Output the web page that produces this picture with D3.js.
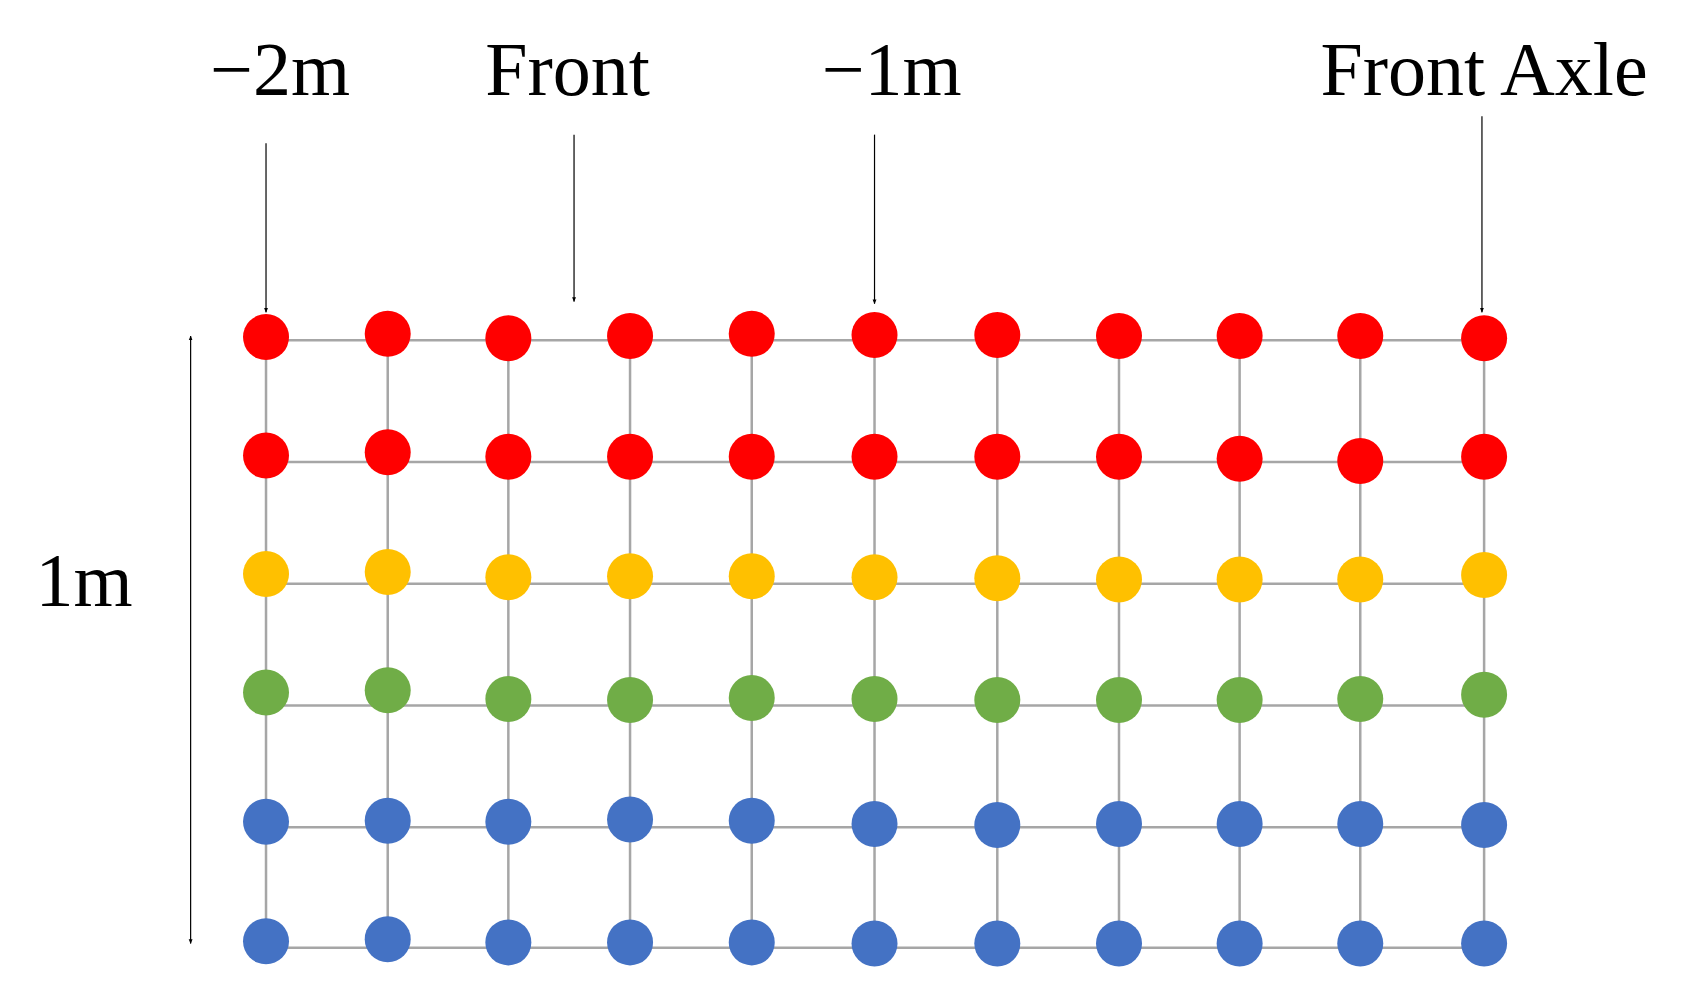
<!DOCTYPE html>
<html><head><meta charset="utf-8">
<script src="https://cdn.jsdelivr.net/npm/d3@7"></script>
<style>body{margin:0;background:#fff}</style></head>
<body><svg id="c" width="1686" height="1002"></svg>
<script>
const columns = [0,1,2,3,4,5,6,7,8,9,10];
const colX = [247,360,472,585,698,812,926,1039,1151,1263,1378];
const gridRows = [316,429,542,655,768,880];
const rowColors = ["#ff0000","#ff0000","#ffc000","#70ad47","#4472c4","#4472c4"];
const dotY = [
 [313,310,314,312,310,311,311,312,312,312,314],
 [423,420,424,424,424,424,424,424,426,428,424],
 [533,531,536,535,535,536,537,538,538,538,534],
 [643,641,649,650,648,649,650,650,650,649,645],
 [763,762,763,761,762,765,766,765,765,765,766],
 [874,872,875,875,875,876,876,876,876,876,876]
];
const topLabels = ["−2m","Front","−1m","Front Axle"];
const labelX = [260,527,828,1378];
const arrowX = [247,533,812,1376];
const arrowTop = [133,125,125,108];
const arrowBottom = [290,280,282,290];
const sideLabel = "1m";

const k = 1.077;
const x = d3.scaleLinear().domain([0,1000]).range([0,1000*k]);
const y = d3.scaleLinear().domain([0,1000]).range([0,1000*k]);
const svg = d3.select("#c");
const defs = svg.append("defs");
defs.append("marker").attr("id","ah").attr("viewBox","0 0 10 10").attr("refX",9).attr("refY",5)
 .attr("markerWidth",4).attr("markerHeight",4).attr("orient","auto-start-reverse")
 .append("path").attr("d","M0,1L10,5L0,9Z").attr("fill","#000");

const g = svg.append("g");
// grid
gridRows.forEach(r=>{
  g.append("line").attr("x1",x(colX[0])).attr("x2",x(colX[10])).attr("y1",y(r)).attr("y2",y(r))
   .attr("stroke","#a6a6a6").attr("stroke-width",2.5);
});
colX.forEach(c=>{
  g.append("line").attr("x1",x(c)).attr("x2",x(c)).attr("y1",y(gridRows[0])).attr("y2",y(gridRows[5]))
   .attr("stroke","#a6a6a6").attr("stroke-width",2.5);
});
// dots
dotY.forEach((row,ri)=>{
  g.selectAll(null).data(row).enter().append("circle")
   .attr("cx",(d,i)=>x(colX[columns[i]])).attr("cy",d=>y(d)).attr("r",23)
   .attr("fill",rowColors[ri]);
});
// labels + arrows
topLabels.forEach((t,i)=>{
  svg.append("text").attr("x",x(labelX[i])).attr("y",y(88)).attr("text-anchor","middle")
   .attr("font-family","Liberation Serif, DejaVu Serif, serif").attr("font-size",76).attr("fill","#000").text(t);
  svg.append("line").attr("x1",x(arrowX[i])).attr("x2",x(arrowX[i])).attr("y1",y(arrowTop[i])).attr("y2",y(arrowBottom[i]))
   .attr("stroke","#000").attr("stroke-width",1.2).attr("marker-end","url(#ah)");
});
svg.append("line").attr("x1",x(177)).attr("x2",x(177)).attr("y1",y(312)).attr("y2",y(876))
 .attr("stroke","#000").attr("stroke-width",1.2).attr("marker-end","url(#ah)").attr("marker-start","url(#ah)");
svg.append("text").attr("x",x(78)).attr("y",y(563)).attr("text-anchor","middle")
 .attr("font-family","Liberation Serif, DejaVu Serif, serif").attr("font-size",76).attr("fill","#000").text(sideLabel);
</script></body></html>
